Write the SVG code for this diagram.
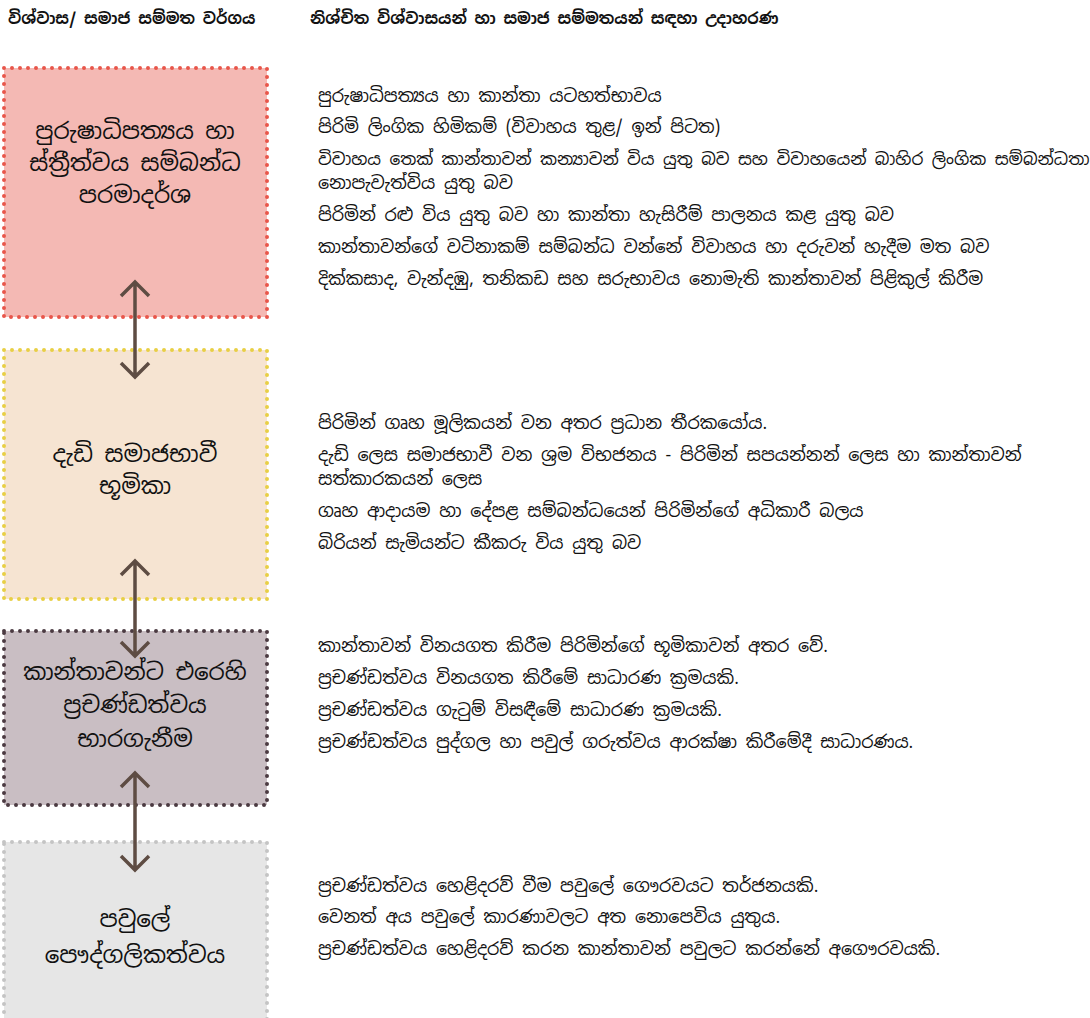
<svg xmlns="http://www.w3.org/2000/svg" width="1090" height="1018" viewBox="0 0 1090 1018">
<style>
text{font-family:"Noto Sans Sinhala","Iskoola Pota","Noto Sans","DejaVu Sans",sans-serif;fill:#111}
.h{font-size:15.7px;font-weight:bold}
.b{font-size:23px;text-anchor:middle}
.t{font-size:17.5px}
.box{stroke-width:4;stroke-dasharray:0 8;stroke-linecap:round}
.arr{stroke:#5e4c43;stroke-width:3.5;fill:none}
</style>
<rect width="1090" height="1018" fill="#fff"/>
<g id="headers">
<text class="h" x="8" y="24">විශ්වාස/ සමාජ සම්මත වර්ගය</text>
<text class="h" x="310" y="24">නිශ්චිත විශ්වාසයන් හා සමාජ සම්මතයන් සඳහා උදාහරණ</text>
</g>
<g id="node1">
<rect class="box" x="4" y="68" width="263" height="249" fill="#f4b9b4" stroke="#e8554a"/>
<text class="b" x="135" y="139">පුරුෂාධිපත්&#x200D;යය හා</text>
<text class="b" x="135" y="171">ස්ත්&#x200D;රීත්වය සම්බන්ධ</text>
<text class="b" x="135" y="203">පරමාදර්ශ</text>
</g>
<g id="node2">
<rect class="box" x="4" y="350" width="263" height="249" fill="#f6e4d2" stroke="#e8cf45"/>
<text class="b" x="135" y="462">දැඩි සමාජභාවී</text>
<text class="b" x="135" y="494">භූමිකා</text>
</g>
<g id="node3">
<rect class="box" x="4" y="631" width="263" height="174" fill="#c9bec3" stroke="#4b3a41"/>
<text class="b" x="135" y="680">කාන්තාවන්ට එරෙහි</text>
<text class="b" x="135" y="713">ප්&#x200D;රචණ්ඩත්වය</text>
<text class="b" x="135" y="747">භාරගැනීම</text>
</g>
<g id="node4">
<rect class="box" x="4" y="842" width="263" height="190" fill="#e6e6e6" stroke="#c4c4c4"/>
<text class="b" x="135" y="927">පවුලේ</text>
<text class="b" x="135" y="963">පෞද්ගලිකත්වය</text>
</g>
<g id="examples1">
<text class="t" x="318" y="102">පුරුෂාධිපත්&#x200D;යය හා කාන්තා යටහත්භාවය</text>
<text class="t" x="318" y="133">පිරිමි ලිංගික හිමිකම් (විවාහය තුළ/ ඉන් පිටත)</text>
<text class="t" x="318" y="165" style="font-size:16.9px">විවාහය තෙක් කාන්තාවන් කන්&#x200D;යාවන් විය යුතු බව සහ විවාහයෙන් බාහිර ලිංගික සම්බන්ධතා</text>
<text class="t" x="318" y="189">නොපැවැත්විය යුතු බව</text>
<text class="t" x="318" y="221">පිරිමින් රළු විය යුතු බව හා කාන්තා හැසිරීම් පාලනය කළ යුතු බව</text>
<text class="t" x="318" y="253">කාන්තාවන්ගේ වටිනාකම් සම්බන්ධ වන්නේ විවාහය හා දරුවන් හැදීම මත බව</text>
<text class="t" x="318" y="285">දික්කසාද, වැන්දඹු, තනිකඩ සහ සරුභාවය නොමැති කාන්තාවන් පිළිකුල් කිරීම</text>
</g>
<g id="examples2">
<text class="t" x="318" y="429">පිරිමින් ගෘහ මූලිකයන් වන අතර ප්&#x200D;රධාන තීරකයෝය.</text>
<text class="t" x="318" y="461">දැඩි ලෙස සමාජභාවී වන ශ්&#x200D;රම විභජනය - පිරිමින් සපයන්නන් ලෙස හා කාන්තාවන්</text>
<text class="t" x="318" y="485">සත්කාරකයන් ලෙස</text>
<text class="t" x="318" y="517">ගෘහ ආදායම හා දේපළ සම්බන්ධයෙන් පිරිමින්ගේ අධිකාරී බලය</text>
<text class="t" x="318" y="549">බිරියන් සැමියන්ට කීකරු විය යුතු බව</text>
</g>
<g id="examples3">
<text class="t" x="318" y="652">කාන්තාවන් විනයගත කිරීම පිරිමින්ගේ භූමිකාවන් අතර වේ.</text>
<text class="t" x="318" y="684">ප්&#x200D;රචණ්ඩත්වය විනයගත කිරීමේ සාධාරණ ක්&#x200D;රමයකි.</text>
<text class="t" x="318" y="716">ප්&#x200D;රචණ්ඩත්වය ගැටුම් විසඳීමේ සාධාරණ ක්&#x200D;රමයකි.</text>
<text class="t" x="318" y="748">ප්&#x200D;රචණ්ඩත්වය පුද්ගල හා පවුල් ගරුත්වය ආරක්ෂා කිරීමේදී සාධාරණය.</text>
</g>
<g id="examples4">
<text class="t" x="318" y="892">ප්&#x200D;රචණ්ඩත්වය හෙළිදරව් වීම පවුලේ ගෞරවයට තර්ජනයකි.</text>
<text class="t" x="318" y="923">වෙනත් අය පවුලේ කාරණාවලට අත නොපෙවිය යුතුය.</text>
<text class="t" x="318" y="955">ප්&#x200D;රචණ්ඩත්වය හෙළිදරව් කරන කාන්තාවන් පවුලට කරන්නේ අගෞරවයකි.</text>
</g>
<g id="connectors">
<path class="arr" d="M135,282 V377 M121,296 L135,282 L149,296 M121,363 L135,377 L149,363"/>
<path class="arr" d="M135,561 V656 M121,575 L135,561 L149,575 M121,642 L135,656 L149,642"/>
<path class="arr" d="M135,773 V870 M121,787 L135,773 L149,787 M121,856 L135,870 L149,856"/>
</g>
</svg>
